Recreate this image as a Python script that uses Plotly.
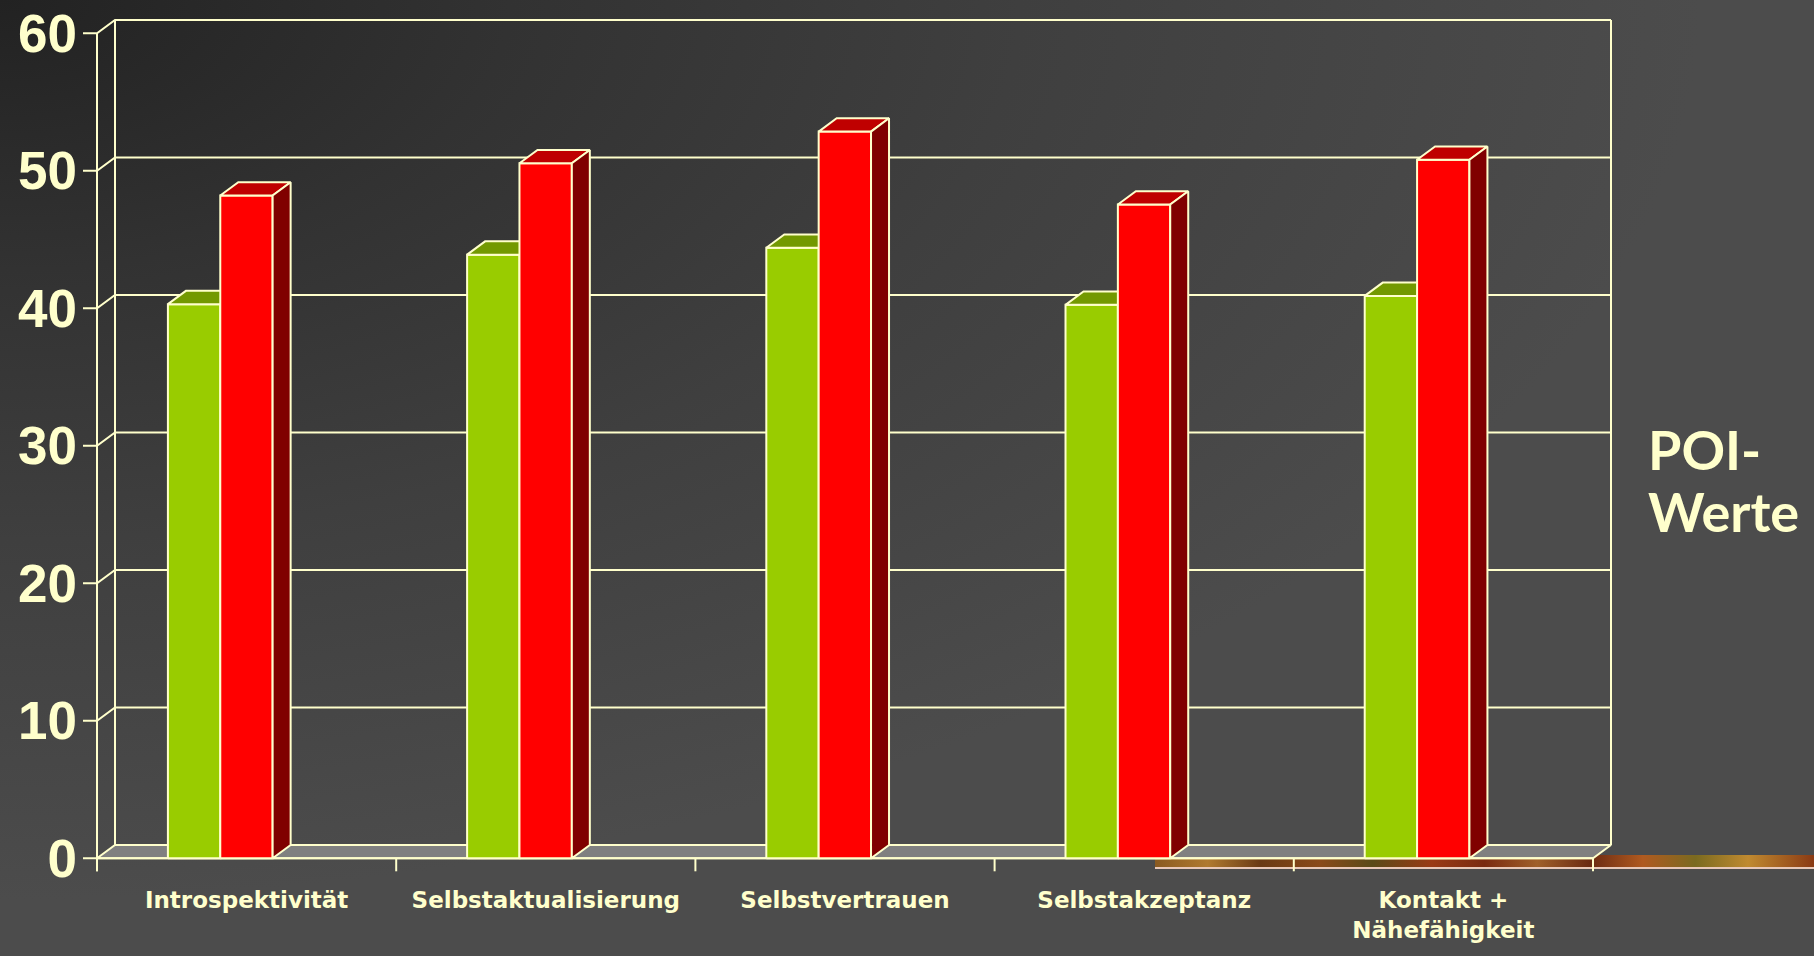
import base64
import plotly.graph_objects as go

# ---------------- data ----------------
categories = ["Introspektivität", "Selbstaktualisierung", "Selbstvertrauen",
              "Selbstakzeptanz", "Kontakt +<br>Nähefähigkeit"]
green_values = [40.3, 43.9, 44.4, 40.25, 40.9]
red_values = [48.2, 50.55, 52.85, 47.55, 50.8]
y_ticks = [0, 10, 20, 30, 40, 50, 60]
side_title = ["POI-", "Werte"]

# ---------------- style / geometry ----------------
W, H = 1814, 956
M_L, M_R, M_T, M_B = 81, 200, 16, 82
X_PX = 299.2        # pixels per category
Y_PX = 13.75        # pixels per value unit
X0_PX = 97          # pixel of front-left axis
Y0_PX = 858.3       # pixel of value 0
DEPTH_X = 18 / X_PX
DEPTH_Y = 13.3 / Y_PX
TICK_X = 14 / X_PX
TICK_Y = 13 / Y_PX
BAR_W = 0.175
GREEN_OFF = -0.263
RED_OFF = -0.088

CREAM = "#FFFFCC"
LW = 2

n = len(categories)
xl, xr = -0.5, n - 0.5
ytop = max(y_ticks)

x_range = [-0.5 - (X0_PX - M_L) / X_PX, -0.5 + (W - M_R - X0_PX) / X_PX]
y_range = [-(H - M_B - Y0_PX) / Y_PX, (Y0_PX - M_T) / Y_PX]


def paths(polys, close=True):
    xs, ys = [], []
    for p in polys:
        pts = list(p) + ([p[0]] if close else [])
        for (a, b) in pts:
            xs.append(a)
            ys.append(b)
        xs.append(None)
        ys.append(None)
    return xs, ys


def poly_trace(polys, fill, close=True):
    xs, ys = paths(polys, close)
    kw = dict(x=xs, y=ys, mode="lines", line=dict(color=CREAM, width=LW),
              hoverinfo="skip", showlegend=False)
    if fill:
        kw.update(fill="toself", fillcolor=fill)
    return go.Scatter(**kw)


fig = go.Figure()

# back + side wall grid lines
wall = []
for v in y_ticks[1:]:
    wall.append([(xl - TICK_X, v), (xl, v), (xl + DEPTH_X, v + DEPTH_Y), (xr + DEPTH_X, v + DEPTH_Y)])
wall.append([(xl + DEPTH_X, DEPTH_Y), (xl + DEPTH_X, ytop + DEPTH_Y)])
wall.append([(xr + DEPTH_X, DEPTH_Y), (xr + DEPTH_X, ytop + DEPTH_Y)])
fig.add_trace(poly_trace(wall, None, close=False))

# floor
fig.add_trace(poly_trace([[(xl, 0), (xr, 0), (xr + DEPTH_X, DEPTH_Y), (xl + DEPTH_X, DEPTH_Y)]], "#808080"))

# front axes
axes = [[(xl, -TICK_Y), (xl, ytop)], [(xl - TICK_X, 0), (xr, 0)]]
for i in range(n + 1):
    b = xl + i
    axes.append([(b, 0), (b, -TICK_Y)])
fig.add_trace(poly_trace(axes, None, close=False))


def bar_faces(values, off):
    front, top, side = [], [], []
    for i, v in enumerate(values):
        x0 = i + off
        x1 = x0 + BAR_W
        front.append([(x0, 0), (x1, 0), (x1, v), (x0, v)])
        top.append([(x0, v), (x1, v), (x1 + DEPTH_X, v + DEPTH_Y), (x0 + DEPTH_X, v + DEPTH_Y)])
        side.append([(x1, 0), (x1 + DEPTH_X, DEPTH_Y), (x1 + DEPTH_X, v + DEPTH_Y), (x1, v)])
    return front, top, side


gf, gt, gs = bar_faces(green_values, GREEN_OFF)
rf, rt, rs = bar_faces(red_values, RED_OFF)
fig.add_trace(poly_trace(gs, "#4D6600"))
fig.add_trace(poly_trace(gf, "#99CC00"))
fig.add_trace(poly_trace(gt, "#739900"))
fig.add_trace(poly_trace(rf, "#FF0000"))
fig.add_trace(poly_trace(rt, "#BF0000"))
fig.add_trace(poly_trace(rs, "#800000"))

# ---------------- background images ----------------
bg_svg = (
    "<svg xmlns='http://www.w3.org/2000/svg' width='1814' height='956'>"
    "<defs><radialGradient id='g' cx='0' cy='0' r='1' gradientUnits='userSpaceOnUse' "
    "gradientTransform='scale(1700,900)'>"
    "<stop offset='0' stop-color='#222222'/>"
    "<stop offset='0.3' stop-color='#323232'/>"
    "<stop offset='0.6' stop-color='#3f3f3f'/>"
    "<stop offset='1' stop-color='#4c4c4c'/>"
    "</radialGradient></defs>"
    "<rect width='1814' height='956' fill='url(#g)'/></svg>"
)
strip_svg = (
    "<svg xmlns='http://www.w3.org/2000/svg' width='660' height='14' preserveAspectRatio='none'>"
    "<defs><linearGradient id='s' x1='0' y1='0' x2='1' y2='0'>"
    "<stop offset='0' stop-color='#8a5a20'/>"
    "<stop offset='0.08' stop-color='#b07a30'/>"
    "<stop offset='0.16' stop-color='#6a3a14'/>"
    "<stop offset='0.25' stop-color='#8a4a1a'/>"
    "<stop offset='0.33' stop-color='#5a4a18'/>"
    "<stop offset='0.42' stop-color='#9a3a14'/>"
    "<stop offset='0.5' stop-color='#7a2a10'/>"
    "<stop offset='0.58' stop-color='#a0602a'/>"
    "<stop offset='0.66' stop-color='#6a2a12'/>"
    "<stop offset='0.74' stop-color='#b05a20'/>"
    "<stop offset='0.82' stop-color='#7a6a20'/>"
    "<stop offset='0.9' stop-color='#c08a30'/>"
    "<stop offset='1' stop-color='#8a3a14'/>"
    "</linearGradient></defs>"
    "<rect width='660' height='12' fill='url(#s)'/>"
    "<rect y='12' width='660' height='2' fill='#e8c8b8'/></svg>"
)


def data_uri(svg):
    return "data:image/svg+xml;base64," + base64.b64encode(svg.encode("utf-8")).decode("ascii")


PW = W - M_L - M_R
PH = H - M_T - M_B


def px2paper_x(px):
    return (px - M_L) / PW


def px2paper_y(py):
    return (H - M_B - py) / PH


images = [
    dict(source=data_uri(bg_svg), xref="paper", yref="paper",
         x=px2paper_x(0), y=px2paper_y(0), sizex=W / PW, sizey=H / PH,
         xanchor="left", yanchor="top", sizing="stretch", layer="below"),
    dict(source=data_uri(strip_svg), xref="paper", yref="paper",
         x=px2paper_x(1155), y=px2paper_y(855), sizex=(W - 1155) / PW, sizey=14 / PH,
         xanchor="left", yanchor="top", sizing="stretch", layer="below"),
]

annotations = []
for k, txt in enumerate(side_title):
    annotations.append(dict(
        text=txt, xref="paper", yref="paper", x=px2paper_x(1646), y=px2paper_y(449 + 63 * k),
        xanchor="left", yanchor="middle", showarrow=False,
        font=dict(family="Lato", size=54, color=CREAM, weight="bold")))

fig.update_layout(
    width=W, height=H,
    margin=dict(l=M_L, r=M_R, t=M_T, b=M_B, pad=0, autoexpand=False),
    paper_bgcolor="#3a3a3a", plot_bgcolor="rgba(0,0,0,0)",
    images=images, annotations=annotations, showlegend=False,
    xaxis=dict(range=x_range, tickvals=list(range(n)), ticktext=categories,
               ticks="", showgrid=False, zeroline=False, showline=False,
               automargin=False, ticklabelstandoff=10,
               tickfont=dict(family="DejaVu Sans", size=23, color=CREAM, weight="bold")),
    yaxis=dict(range=y_range, tickvals=y_ticks, ticktext=[str(v) for v in y_ticks],
               ticks="", showgrid=False, zeroline=False, showline=False,
               automargin=False, ticklabelstandoff=3,
               tickfont=dict(family="Liberation Sans", size=53, color=CREAM, weight="bold")),
)

fig.write_html("out.html", config={"displayModeBar": False},
               post_script="document.body.style.margin='0';document.body.style.overflow='hidden';")
